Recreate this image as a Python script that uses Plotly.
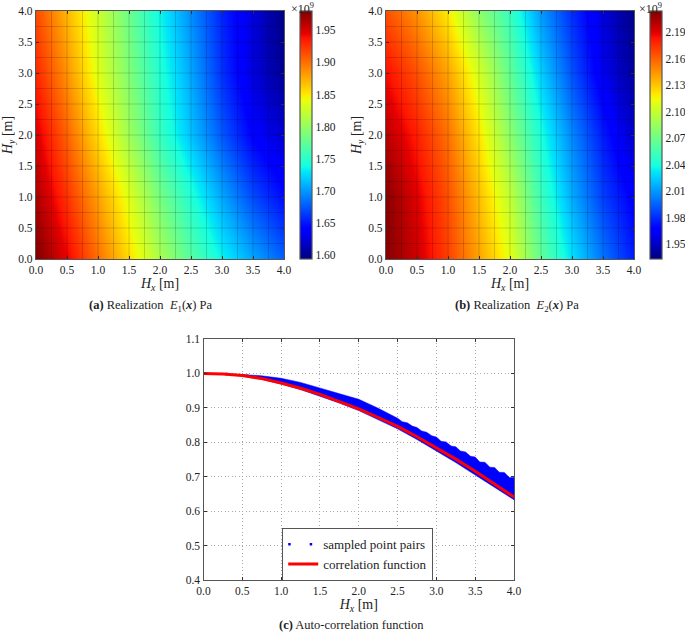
import plotly.graph_objects as go

# ---- data ----
grid_x = [0.0, 0.5, 1.0, 1.5, 2.0, 2.5, 3.0, 3.5, 4.0]
grid_y = [0.0, 1.0, 2.0, 3.0, 4.0]

e1_y0 = [1.980, 1.945, 1.900, 1.855, 1.810, 1.770, 1.735, 1.705, 1.678]
e1_y1 = [1.965, 1.925, 1.880, 1.835, 1.785, 1.745, 1.705, 1.670, 1.645]
e1_y2 = [1.950, 1.905, 1.855, 1.805, 1.755, 1.715, 1.675, 1.640, 1.620]
e1_y3 = [1.930, 1.885, 1.835, 1.790, 1.745, 1.705, 1.660, 1.625, 1.600]
e1_y4 = [1.915, 1.870, 1.825, 1.780, 1.735, 1.695, 1.655, 1.625, 1.595]

e2_y0 = [2.212, 2.195, 2.170, 2.140, 2.110, 2.065, 2.030, 2.000, 1.975]
e2_y1 = [2.212, 2.190, 2.165, 2.132, 2.098, 2.052, 2.015, 1.985, 1.965]
e2_y2 = [2.200, 2.180, 2.155, 2.120, 2.080, 2.040, 2.005, 1.975, 1.950]
e2_y3 = [2.185, 2.165, 2.140, 2.105, 2.065, 2.025, 1.990, 1.960, 1.940]
e2_y4 = [2.165, 2.145, 2.118, 2.080, 2.050, 2.010, 1.980, 1.955, 1.935]

e1_ticks = [1.60, 1.65, 1.70, 1.75, 1.80, 1.85, 1.90, 1.95]
e2_ticks = [1.95, 1.98, 2.01, 2.04, 2.07, 2.10, 2.13, 2.16, 2.19]
e1_range = [1.594, 1.98]
e2_range = [1.933, 2.214]

corr_x = [0.0, 0.25, 0.5, 0.75, 1.0, 1.25, 1.5, 1.75, 2.0, 2.25, 2.5, 2.75, 3.0, 3.25, 3.5, 3.75, 4.0]
corr_y = [1.0, 0.9985, 0.994, 0.985, 0.972, 0.957, 0.939, 0.919, 0.897, 0.872, 0.846, 0.816, 0.784, 0.751, 0.716, 0.679, 0.641]
lower_y = [1.0, 0.998, 0.992, 0.983, 0.969, 0.953, 0.934, 0.914, 0.892, 0.866, 0.839, 0.808, 0.775, 0.741, 0.705, 0.670, 0.633]
middle_y = [1.0, 0.999, 0.995, 0.988, 0.978, 0.965, 0.948, 0.930, 0.909, 0.885, 0.858, 0.830, 0.800, 0.768, 0.734, 0.698, 0.660]

upper_x = [0.0, 0.25, 0.5, 0.75, 1.0, 1.25, 1.5, 1.75, 2.0, 2.25, 2.5, 2.56, 2.625, 2.69, 2.75, 2.81, 2.875, 2.94, 3.0, 3.06,
           3.125, 3.19, 3.25, 3.31, 3.375, 3.44, 3.5, 3.56, 3.625, 3.69, 3.75, 3.81, 3.875, 3.94, 4.0]
upper_y = [1.0, 0.999, 0.997, 0.993, 0.986, 0.974, 0.957, 0.942, 0.925, 0.899, 0.870, 0.860, 0.8565, 0.847, 0.843, 0.833, 0.829, 0.819, 0.815, 0.803,
           0.801, 0.789, 0.787, 0.7745, 0.772, 0.7595, 0.757, 0.7425, 0.742, 0.7275, 0.727, 0.713, 0.7125, 0.698, 0.698]

tick_05 = [0.0, 0.5, 1.0, 1.5, 2.0, 2.5, 3.0, 3.5, 4.0]
cell_lines = [0.25, 0.5, 0.75, 1.0, 1.25, 1.5, 1.75, 2.0, 2.25, 2.5, 2.75, 3.0, 3.25, 3.5, 3.75]
corr_ticks = [0.4, 0.5, 0.6, 0.7, 0.8, 0.9, 1.0, 1.1]

# matplotlib "jet"
JET = [[0.0, "rgb(0,0,127)"], [0.11, "rgb(0,0,255)"], [0.125, "rgb(0,0,255)"], [0.34, "rgb(0,220,255)"],
       [0.35, "rgb(0,229,246)"], [0.375, "rgb(20,255,226)"], [0.64, "rgb(234,255,10)"], [0.66, "rgb(255,236,0)"],
       [0.89, "rgb(255,20,0)"], [0.91, "rgb(230,0,0)"], [1.0, "rgb(127,0,0)"]]

W, H = 685, 632
FONT = "Liberation Serif, serif"
TXT = "#222"
FRAME = "#555"


def px_x(a, b):
    return [a / W, b / W]


def px_y(top, bottom):
    return [1 - bottom / H, 1 - top / H]


def axis(domain, anchor, title, vals, rng, standoff, grid=False):
    ax = dict(domain=domain, anchor=anchor, range=rng, tickvals=vals, tickformat=".1f",
              ticks="inside", ticklen=3, tickwidth=0.8,
              tickcolor="#333", mirror="ticks", showline=True, linecolor=FRAME, linewidth=1.3,
              showgrid=grid, zeroline=False, tickfont=dict(family=FONT, size=11.5, color=TXT),
              title=dict(text=title, standoff=standoff, font=dict(family=FONT, size=14, color=TXT)))
    if grid:
        ax.update(gridcolor="#aaa", griddash="1px,2.5px", gridwidth=1)
    return ax


fig = go.Figure()


def heat(z, rng, ticks, xa, ya, cb_left):
    fig.add_trace(go.Heatmap(
        x=grid_x, y=grid_y, z=z, xaxis=xa, yaxis=ya, zsmooth="best", colorscale=JET, zmin=rng[0], zmax=rng[1],
        colorbar=dict(x=cb_left / W, xanchor="left", xpad=0, ypad=0, thickness=12, thicknessmode="pixels",
                      y=1 - 135 / H, yanchor="middle", len=248 / H, lenmode="fraction",
                      tickvals=ticks, tickformat=".2f", ticks="", outlinecolor=FRAME,
                      outlinewidth=1.2, tickfont=dict(family=FONT, size=11.5, color=TXT))))


heat([e1_y0, e1_y1, e1_y2, e1_y3, e1_y4], e1_range, e1_ticks, "x", "y", 300)
heat([e2_y0, e2_y1, e2_y2, e2_y3, e2_y4], e2_range, e2_ticks, "x2", "y2", 650)

# band of sampled pairs
band_x = upper_x + corr_x[::-1]
band_y = upper_y + lower_y[::-1]
fig.add_trace(go.Scatter(x=band_x, y=band_y, xaxis="x3", yaxis="y3", mode="lines", fill="toself",
                         fillcolor="#0000ff", line=dict(color="#0000ff", width=0.5), showlegend=False,
                         hoverinfo="skip"))
fig.add_trace(go.Scatter(x=corr_x, y=middle_y, xaxis="x3", yaxis="y3", mode="lines", name="sampled point pairs",
                         line=dict(color="#0000ff", width=2.5, dash="2.5px,19px")))
fig.add_trace(go.Scatter(x=corr_x, y=corr_y, xaxis="x3", yaxis="y3", mode="lines", name="correlation function",
                         line=dict(color="#ff0000", width=3)))

shapes = []
for xr, yr in (("x", "y"), ("x2", "y2")):
    for v in cell_lines:
        line = dict(color="rgba(0,0,0,0.16)", width=1)
        shapes.append(dict(type="line", xref=xr, yref=yr, x0=v, x1=v, y0=0, y1=4, line=line, layer="above"))
        shapes.append(dict(type="line", xref=xr, yref=yr, x0=0, x1=4, y0=v, y1=v, line=line, layer="above"))

HX = "<i>H<sub>x</sub></i> [m]"
HY = "<i>H<sub>y</sub></i> [m]"
NB = "\u00a0"


def caption(text, cx, cy):
    return dict(text=text, x=cx / W, y=1 - cy / H, xref="paper", yref="paper", showarrow=False,
                xanchor="center", yanchor="middle", font=dict(family=FONT, size=12.5, color=TXT))


def exponent(cx):
    return dict(text="×10<sup>9</sup>", x=cx / W, y=1 - 9 / H, xref="paper", yref="paper", showarrow=False,
                xanchor="center", yanchor="middle", font=dict(family=FONT, size=12, color=TXT))


layout_axes = dict(
    xaxis=axis(px_x(36, 284), "y", HX, tick_05, [0, 4], 3),
    yaxis=axis(px_y(11, 259), "x", HY, tick_05, [0, 4], 3),
    xaxis2=axis(px_x(386, 634), "y2", HX, tick_05, [0, 4], 3),
    yaxis2=axis(px_y(11, 259), "x2", HY, tick_05, [0, 4], 3),
    xaxis3=axis(px_x(203.5, 514), "y3", HX, tick_05, [0, 4], 3, grid=True),
    yaxis3=axis(px_y(339, 580), "x3", "", corr_ticks, [0.4, 1.1], 3, grid=True),
)

fig.update_layout(
    width=W, height=H, margin=dict(l=0, r=0, t=0, b=0, autoexpand=False), paper_bgcolor="white", plot_bgcolor="white",
    shapes=shapes, showlegend=True,
    legend=dict(x=282 / W, y=1 - 528 / H, xanchor="left", yanchor="top", bgcolor="white", bordercolor=FRAME,
                borderwidth=1.2, itemwidth=30, font=dict(family=FONT, size=13, color=TXT)),
    annotations=[
        caption(f"<b>(a)</b>{NB}Realization{NB}{NB}<i>E</i><sub>1</sub>(<b><i>x</i></b>){NB}Pa", 150.5, 306),
        caption(f"<b>(b)</b>{NB}Realization{NB}{NB}<i>E</i><sub>2</sub>(<b><i>x</i></b>){NB}Pa", 517, 306),
        caption("<b>(c)</b> Auto-correlation function", 351, 625),
        exponent(302), exponent(650),
    ],
    **layout_axes)

fig.write_html("out.html", config={"displayModeBar": False}, post_script="document.body.style.margin='0';")
